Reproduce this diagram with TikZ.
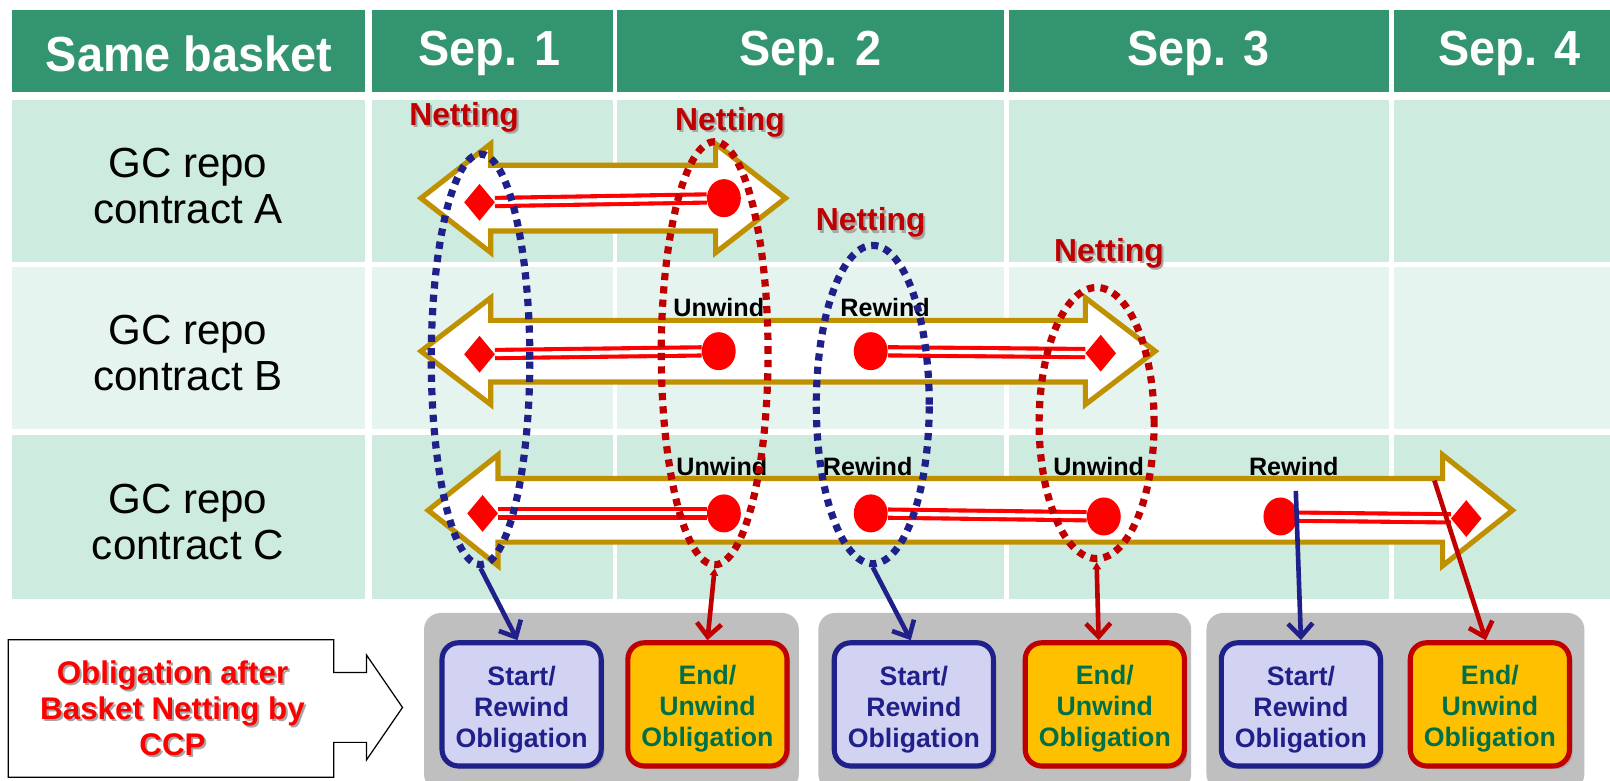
\documentclass[tikz,border=0pt]{standalone}
\usepackage{fontspec}
\setmainfont{Liberation Sans}
\usetikzlibrary{shapes.geometric,arrows.meta,shadows}
\definecolor{hdr}{HTML}{33956F}
\definecolor{rowa}{HTML}{CDEBDF}
\definecolor{rowb}{HTML}{E5F4EE}
\definecolor{gold}{HTML}{BF9000}
\definecolor{dred}{HTML}{C00000}
\definecolor{navy}{HTML}{20208A}
\definecolor{lav}{HTML}{D2D2F2}
\definecolor{org}{HTML}{FFC000}
\definecolor{dgreen}{HTML}{00704A}
\definecolor{panel}{HTML}{BFBFBF}
\begin{document}
\begin{tikzpicture}[x=1pt,y=-1pt,
  hdrtext/.style={text=white,font=\fontsize{48}{52}\selectfont\bfseries,inner sep=0,xscale=0.95},
  rowtext/.style={align=center,font=\fontsize{41}{45}\selectfont,inner sep=0},
  arrowshape/.style={draw=gold,fill=white,line width=5pt,line join=miter},
  dbl/.style={draw=red,line width=4pt,double=white,double distance=4pt},
  dotc/.style={ellipse,fill=red,minimum width=33pt,minimum height=37pt,inner sep=0},
  dotd/.style={diamond,fill=red,minimum width=30pt,minimum height=36pt,inner sep=0},
  ellb/.style={ellipse,draw=navy,line width=7pt,dash pattern=on 7pt off 6pt,inner sep=0},
  ellr/.style={ellipse,draw=dred,line width=7pt,dash pattern=on 7pt off 6pt,inner sep=0},
  wtext/.style={font=\fontsize{24.5}{28}\selectfont\bfseries,inner sep=0},
  nettext/.style={text=dred,font=\fontsize{31}{34}\selectfont\bfseries,inner sep=0},
  netshadow/.style={text=black!35,font=\fontsize{31}{34}\selectfont\bfseries,inner sep=0},
  boxtext/.style={align=center,inner sep=0,font=\fontsize{26}{30}\selectfont\bfseries},
  startbox/.style={draw=navy,fill=lav,line width=5pt,rounded corners=16pt,
    minimum width=155pt,minimum height=120pt,inner sep=0,
    drop shadow={shadow xshift=3pt,shadow yshift=-3pt,opacity=0.4}},
  endbox/.style={startbox,draw=dred,fill=org},
  panelbox/.style={fill=panel,rounded corners=16pt},
  navyarr/.style={draw=navy,line width=4.5pt,-{Straight Barb[length=13pt,width=24pt]}},
  redarr/.style={draw=dred,line width=4.5pt,{Triangle[length=7pt,width=8pt]}-{Straight Barb[length=13pt,width=24pt]}}
]
\useasboundingbox (0,0) rectangle (1568,760);
\fill[white] (0,0) rectangle (1568,760);
% header cells
\fill[hdr] (12,10) rectangle (355,90);
\fill[hdr] (362,10) rectangle (597,90);
\fill[hdr] (601,10) rectangle (978,90);
\fill[hdr] (983,10) rectangle (1353,90);
\fill[hdr] (1358,10) rectangle (1568,90);
% row cells
\foreach \ya/\yb/\c in {97/255/rowa,260/418/rowb,424/583/rowa}{
  \fill[\c] (12,\ya) rectangle (355,\yb);
  \fill[\c] (362,\ya) rectangle (597,\yb);
  \fill[\c] (601,\ya) rectangle (978,\yb);
  \fill[\c] (983,\ya) rectangle (1353,\yb);
  \fill[\c] (1358,\ya) rectangle (1568,\yb);
}
\node[hdrtext] (hsame) at (184,52) {Same basket};
\node[hdrtext] (h1) at (477,52) {Sep. 1};
\node[hdrtext] (h2) at (789,52) {Sep. 2};
\node[hdrtext] (h3) at (1167,52) {Sep. 3};
\node[hdrtext] (h4) at (1470,52) {Sep. 4};
\node[rowtext] (ra) at (183,181) {GC repo\\contract A};
\node[rowtext] (rb) at (183,344) {GC repo\\contract B};
\node[rowtext] (rc) at (183,508) {GC repo\\contract C};
% big double arrows
\draw[arrowshape] (410,193) -- (478,140) -- (478,161) -- (697,161) -- (697,140) -- (765,193)
  -- (697,246) -- (697,225) -- (478,225) -- (478,246) -- cycle;
\draw[arrowshape] (410,342) -- (478,290) -- (478,312) -- (1057,312) -- (1057,290) -- (1125,342)
  -- (1057,394) -- (1057,372) -- (478,372) -- (478,394) -- cycle;
\draw[arrowshape] (417,497) -- (485,443) -- (485,466) -- (1405,466) -- (1405,443) -- (1473,497)
  -- (1405,551) -- (1405,528) -- (485,528) -- (485,551) -- cycle;
% dots
\node[dotd] (a1) at (467,197) {};
\node[dotc] (a2) at (705,193) {};
\node[dotd] (b1) at (467,345) {};
\node[dotc] (b2) at (700,342) {};
\node[dotc] (b3) at (848,342) {};
\node[dotd] (b4) at (1072,344) {};
\node[dotd] (c1) at (470,500) {};
\node[dotc] (c2) at (705,500) {};
\node[dotc] (c3) at (848,500) {};
\node[dotc] (c4) at (1075,503) {};
\node[dotc] (c5) at (1247,503) {};
\node[dotd] (c6) at (1428,505) {};
\draw[dbl] (a1) -- (a2);
\draw[dbl] (b1) -- (b2);
\draw[dbl] (b3) -- (b4);
\draw[dbl] (c1) -- (c2);
\draw[dbl] (c3) -- (c4);
\draw[dbl] (c5) -- (c6);
% labels
\node[wtext] (ub) at (700,299) {Unwind};
\node[wtext] (rwb) at (862,299) {Rewind};
\node[wtext] (uc1) at (703,454) {Unwind};
\node[wtext] (rwc1) at (845,454) {Rewind};
\node[wtext] (uc2) at (1070,454) {Unwind};
\node[wtext] (rwc2) at (1260,454) {Rewind};
% dotted ellipses
\node[ellb,minimum width=96pt,minimum height=400pt] (eb1) at (468,350) {};
\node[ellr,minimum width=104pt,minimum height=412pt] (er1) at (696,344) {};
\node[ellb,minimum width=110pt,minimum height=310pt] (eb2) at (850,394) {};
\node[ellr,minimum width=112pt,minimum height=264pt] (er2) at (1068,412) {};
% netting labels
\foreach \n/\x/\y in {n1/452/114,n2/711/119,n3/848/217,n4/1080/247}{
  \node[netshadow] (\n s) at (\x+2,\y+2) {Netting};
  \node[nettext] (\n) at (\x,\y) {Netting};
}
% bottom panels
\fill[panelbox] (413,597) rectangle (778,770);
\fill[panelbox] (797,597) rectangle (1160,770);
\fill[panelbox] (1175,597) rectangle (1543,770);
\foreach \n/\x/\st in {s1/508/startbox,e1/689/endbox,s2/890/startbox,e2/1076/endbox,s3/1267/startbox,e3/1451/endbox}{
  \node[\st] (\n) at (\x,686) {};
}
\foreach \n/\x in {s1/508,s2/890,s3/1267}{
  \node[boxtext,text=navy] (\n t) at (\x,691) {Start/\\Rewind\\Obligation};
}
\foreach \n/\x in {e1/689,e2/1076,e3/1451}{
  \node[boxtext,text=dgreen] (\n t) at (\x,690) {End/\\Unwind\\Obligation};
}
% left callout
\draw[black,line width=1.2pt,fill=white] (8,623) -- (325,623) -- (325,655) -- (357,655) -- (357,638)
  -- (392,689) -- (357,740) -- (357,723) -- (325,723) -- (325,757) -- (8,757) -- cycle;
\node[align=center,text=black!35,font=\fontsize{30.5}{35}\selectfont\bfseries,inner sep=0] (obs) at (170,692)
  {Obligation after\\Basket Netting by\\CCP};
\node[align=center,text=red,font=\fontsize{30.5}{35}\selectfont\bfseries,inner sep=0] (ob) at (168,690)
  {Obligation after\\Basket Netting by\\CCP};
% connectors
\coordinate (rwstart) at (1262,478);
\coordinate (rdstart) at (1397,468);
\draw[navyarr] (eb1.south) -- ([xshift=-4pt]s1.north);
\draw[redarr] (er1.south) -- (e1.north);
\draw[navyarr] (eb2.south) -- ([xshift=-3pt]s2.north);
\draw[redarr] (er2.south) -- ([xshift=-6pt]e2.north);
\draw[navyarr] (rwstart) -- (s3.north);
\draw[draw=dred,line width=4.5pt,-{Straight Barb[length=13pt,width=24pt]}] (rdstart) -- ([xshift=-4pt]e3.north);
\end{tikzpicture}
\end{document}
